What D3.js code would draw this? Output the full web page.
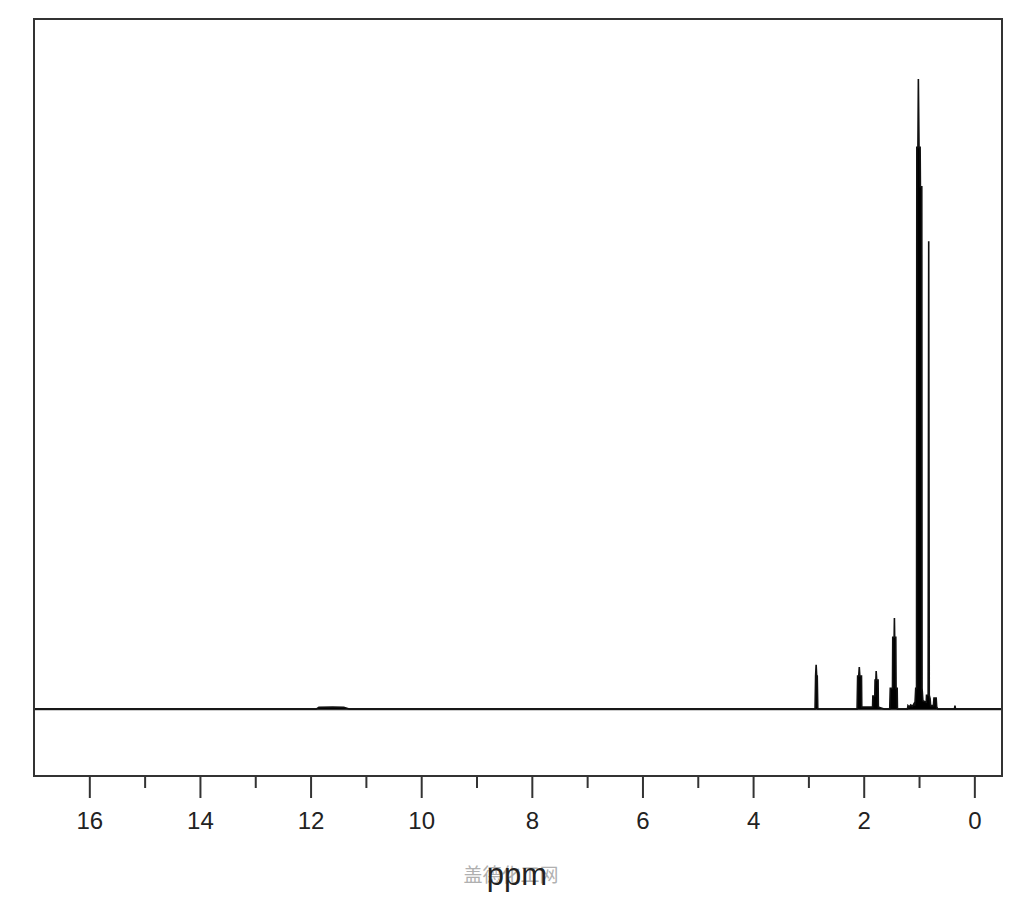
<!DOCTYPE html>
<html>
<head>
<meta charset="utf-8">
<script src="https://cdn.jsdelivr.net/npm/d3@7/dist/d3.min.js"></script>
<style>
  html, body { margin: 0; padding: 0; background: #fff; }
  svg { display: block; }
</style>
</head>
<body>
<svg id="chart" width="1024" height="900"></svg>
<script>
// ---- Data ----
// chemical shift (ppm) of each vertex of the trace, left to right
const shiftPpm = [
  17.0, 11.9, 11.85, 11.6, 11.4, 11.3,
  2.88, 2.87, 2.86, 2.85, 2.84, 2.83,
  2.12, 2.11, 2.09, 2.08, 2.07, 2.04, 2.035,
  1.84, 1.835, 1.80, 1.795, 1.78, 1.775, 1.765, 1.74, 1.735, 1.70, 1.63,
  1.53, 1.52, 1.48, 1.475, 1.45, 1.445, 1.44, 1.42, 1.415, 1.395, 1.39,
  1.21, 1.20, 1.18, 1.15, 1.12, 1.09, 1.075,
  1.06, 1.045, 1.04, 1.02, 1.012, 1.0, 0.98, 0.975, 0.95, 0.945, 0.93, 0.87, 0.865, 0.84,
  0.835, 0.825, 0.815, 0.80, 0.79, 0.74, 0.73, 0.69, 0.68, 0.66,
  0.36, 0.35, 0.34, -0.5
];
// intensity (arbitrary units) at each vertex
const intensity = [
  0, 0, 0.25, 0.3, 0.25, 0,
  0, 4.8, 6.4, 4.8, 4.8, 0,
  0, 4.8, 4.8, 6.1, 4.8, 4.8, 0.3,
  0.3, 1.9, 1.9, 4.2, 4.2, 5.5, 4.2, 4.2, 0.3, 0.2, 0,
  0, 3.0, 3.0, 10.4, 10.4, 13.2, 10.4, 10.4, 3.0, 3.0, 0,
  0, 0.5, 0.3, 0.6, 0.4, 0.8, 0.5,
  3.0, 3.0, 81.4, 81.4, 91.3, 81.4, 81.4, 75.7, 75.7, 3.0, 1.2, 1.0, 2.0, 2.0,
  2.0, 67.8, 2.0, 1.5, 0.5, 0.5, 1.6, 1.6, 0.3, 0,
  0, 0.5, 0, 0
];
const xTicks = [16, 14, 12, 10, 8, 6, 4, 2, 0];
const xMinorTicks = [15, 13, 11, 9, 7, 5, 3, 1];
const xLabel = "ppm";
const watermark = "盖德化工网";

// ---- Layout ----
const L = 34, R = 1002, T = 19, B = 776;
const svg = d3.select("#chart");

const x = d3.scaleLinear().domain([17, -0.5]).range([L, R]);
const y = d3.scaleLinear().domain([-9.7, 100]).range([B, T]);

const pts = shiftPpm.map((p, i) => [p, intensity[i]]);

// baseline
svg.append("line")
  .attr("x1", L).attr("x2", R)
  .attr("y1", y(0)).attr("y2", y(0))
  .attr("stroke", "#333").attr("stroke-width", 2.2);

// spectrum trace (filled to baseline)
const area = d3.area().x(d => x(d[0])).y0(y(0)).y1(d => y(d[1]));
svg.append("path").datum(pts)
  .attr("d", area)
  .attr("fill", "#000");
const line = d3.line().x(d => x(d[0])).y(d => y(d[1]));
svg.append("path").datum(pts)
  .attr("d", line)
  .attr("fill", "none")
  .attr("stroke", "#111")
  .attr("stroke-width", 1.6)
  .attr("stroke-linejoin", "miter");

// frame
svg.append("rect")
  .attr("x", L).attr("y", T)
  .attr("width", R - L).attr("height", B - T)
  .attr("fill", "none").attr("stroke", "#333").attr("stroke-width", 2);

// axis
const axis = d3.axisBottom(x).tickValues(xTicks).tickSize(22).tickPadding(14)
  .tickFormat(d3.format("d"));
const gAx = svg.append("g").attr("transform", `translate(0,${B})`).call(axis);
gAx.select(".domain").remove();
gAx.selectAll(".tick line").attr("stroke", "#333").attr("stroke-width", 2);
gAx.selectAll(".tick text")
  .attr("fill", "#222")
  .style("font-family", "'Liberation Sans', Arial, sans-serif")
  .style("font-size", "24px");

const minor = d3.axisBottom(x).tickValues(xMinorTicks).tickSize(12).tickFormat("");
const gMin = svg.append("g").attr("transform", `translate(0,${B})`).call(minor);
gMin.select(".domain").remove();
gMin.selectAll(".tick line").attr("stroke", "#333").attr("stroke-width", 2);

// watermark
svg.append("text")
  .attr("x", 511).attr("y", 882)
  .attr("text-anchor", "middle")
  .attr("fill", "#b0b0b0")
  .style("font-family", "'Noto Sans CJK SC', sans-serif")
  .style("font-size", "19px")
  .text(watermark);

// x label
svg.append("text")
  .attr("x", 517).attr("y", 885)
  .attr("text-anchor", "middle")
  .attr("fill", "#222")
  .style("font-family", "'Liberation Sans', Arial, sans-serif")
  .style("font-size", "31px")
  .text(xLabel);
</script>
</body>
</html>
